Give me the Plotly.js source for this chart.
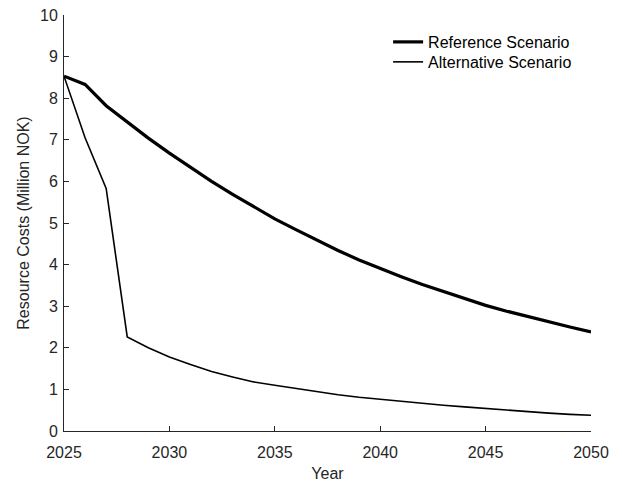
<!DOCTYPE html>
<html>
<head>
<meta charset="utf-8">
<script src="https://cdn.plot.ly/plotly-3.0.1.min.js"></script>
<style>html,body{margin:0;padding:0;background:#fff;}#chart{width:622px;height:482px;}</style>
</head>
<body>
<div id="chart"></div>
<script>
var years = [2025,2026,2027,2028,2029,2030,2031,2032,2033,2034,2035,2036,2037,2038,2039,2040,2041,2042,2043,2044,2045,2046,2047,2048,2049,2050];
var referenceScenario = [8.53,8.33,7.82,7.42,7.04,6.68,6.33,6.00,5.69,5.39,5.10,4.84,4.58,4.34,4.11,3.90,3.71,3.52,3.35,3.18,3.02,2.88,2.75,2.62,2.50,2.38];
var alternativeScenario = [8.53,7.05,5.83,2.26,2.00,1.78,1.60,1.43,1.30,1.18,1.10,1.02,0.94,0.87,0.81,0.76,0.71,0.66,0.62,0.58,0.54,0.50,0.46,0.43,0.40,0.38];
var xTicks = [2025,2030,2035,2040,2045,2050];
var yTicks = [0,1,2,3,4,5,6,7,8,9,10];

var FONT = 'Liberation Sans, Arial, sans-serif';
var traces = [
  {x: years, y: referenceScenario, type: 'scatter', mode: 'lines', name: 'Reference Scenario',
   line: {color: '#000000', width: 3.2}, legend: 'legend'},
  {x: years, y: alternativeScenario, type: 'scatter', mode: 'lines', name: 'Alternative Scenario',
   line: {color: '#000000', width: 1.6}, legend: 'legend2'}
];
var axisCommon = {
  showgrid: false, zeroline: false, showline: true, linecolor: '#262626', linewidth: 1,
  ticks: 'inside', ticklen: 5, tickcolor: '#262626', tickwidth: 1,
  tickfont: {family: FONT, size: 16, color: '#262626'}
};
var legendCommon = {xanchor: 'left', yanchor: 'top', bgcolor: 'rgba(255,255,255,0)',
  font: {family: FONT, size: 16, color: '#000000'}, itemwidth: 30};
var layout = {
  width: 622, height: 482,
  margin: {l: 64, r: 31, t: 15, b: 51},
  paper_bgcolor: '#ffffff', plot_bgcolor: '#ffffff',
  showlegend: true,
  legend: Object.assign({}, legendCommon, {x: 0.615, y: 0.976}),
  legend2: Object.assign({}, legendCommon, {x: 0.615, y: 0.928}),
  xaxis: Object.assign({}, axisCommon, {range: [2025, 2050], tickvals: xTicks, ticklabelstandoff: 7,
    title: {text: 'Year', standoff: 7, font: {family: FONT, size: 16, color: '#262626'}}}),
  yaxis: Object.assign({}, axisCommon, {range: [0, 10], tickvals: yTicks, ticklabelstandoff: 2,
    title: {text: 'Resource Costs (Million NOK)', standoff: 6, font: {family: FONT, size: 16, color: '#262626'}}})
};
Plotly.newPlot('chart', traces, layout, {displayModeBar: false, staticPlot: true});
</script>
</body>
</html>
